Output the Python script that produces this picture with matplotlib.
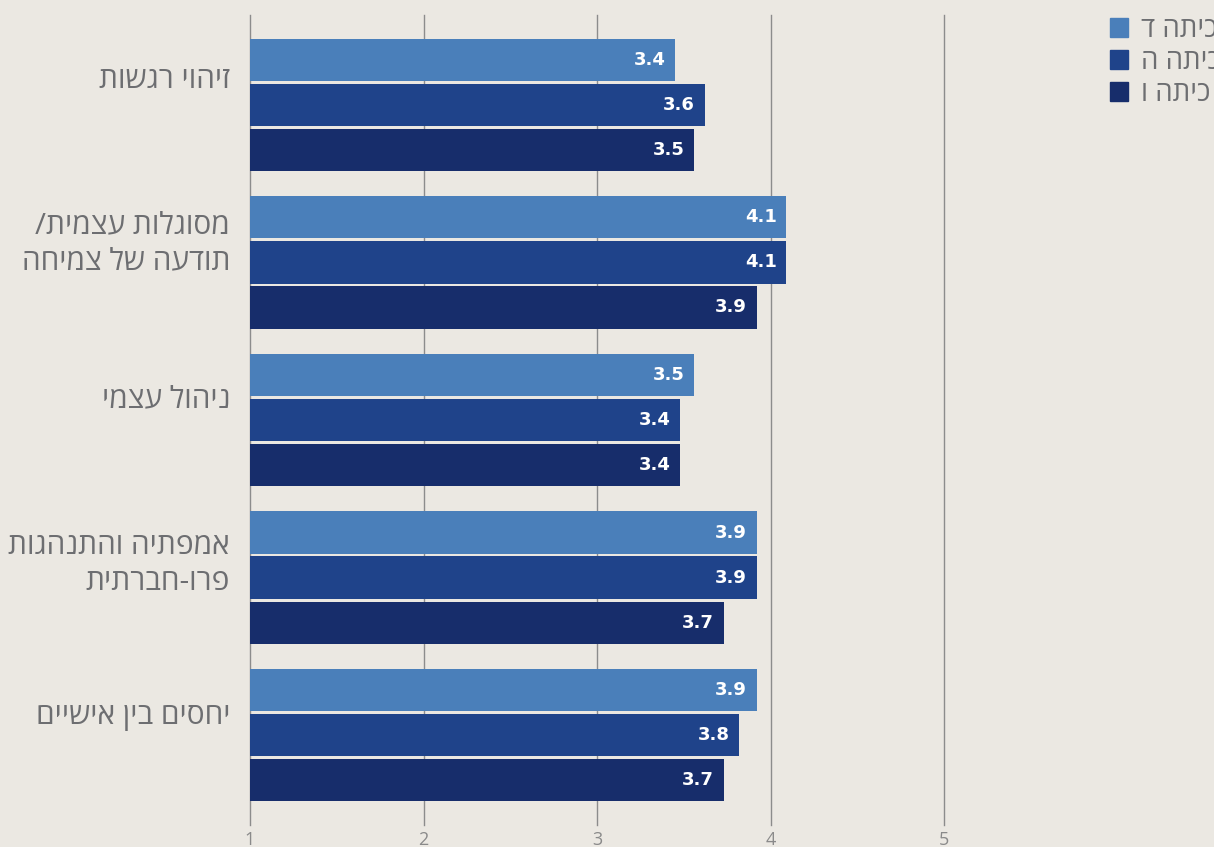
"""Horizontal grouped bars: social-emotional skills by grade."""
import matplotlib.pyplot as plt
from matplotlib.patches import Patch

# data (Hebrew kept in logical order, reversed only when drawn)
categories = [
    "זיהוי רגשות",
    "מסוגלות עצמית/\nתודעה של צמיחה",
    "ניהול עצמי",
    "אמפתיה והתנהגות\nפרו-חברתית",
    "יחסים בין אישיים",
]
grades = ["כיתה ד", "כיתה ה", "כיתה ו"]
grade_d = [3.45, 4.09, 3.56, 3.92, 3.92]
grade_h = [3.62, 4.09, 3.48, 3.92, 3.82]
grade_v = [3.56, 3.92, 3.48, 3.73, 3.73]
labels_d = ["3.4", "4.1", "3.5", "3.9", "3.9"]
labels_h = ["3.6", "4.1", "3.4", "3.9", "3.8"]
labels_v = ["3.5", "3.9", "3.4", "3.7", "3.7"]
xticks = [1, 2, 3, 4, 5]

COLORS = ["#4a7fba", "#1f438a", "#172d6b"]
BG = "#ebe8e2"
FONT = ["Open Sans", "DejaVu Sans"]
# labels sit a little above the middle bar in the original (pixels)
LABEL_NUDGE = [-24, -19, -20, -13, -19]
PX_PER_ROW = 157.5


def rtl(s):
    """matplotlib has no bidi, flip each line by hand."""
    return "\n".join(line[::-1] for line in s.split("\n"))


def main():
    plt.rcParams['font.family'] = FONT
    fig = plt.figure(figsize=(12.14, 8.47), dpi=100, facecolor=BG)
    W, H = 1214, 847
    ax = fig.add_axes([250 / W, 1 - 825 / H, (944 - 250) / W, (825 - 15) / H])
    ax.set_facecolor(BG)

    series = [(grade_d, labels_d), (grade_h, labels_h), (grade_v, labels_v)]
    offs = [-0.2857, 0, 0.2857]
    for (vals, labs), off, col in zip(series, offs, COLORS):
        ys = [i + off for i in range(len(vals))]
        ax.barh(ys, [v - 1 for v in vals], left=1, height=0.267,
                color=col, zorder=2)
        for y, v, lab in zip(ys, vals, labs):
            ax.text(v - 0.055, y, lab, ha='right', va='center', color='white',
                    fontsize=13, fontweight='bold', family='DejaVu Sans',
                    zorder=3)

    ax.set_xlim(1, 5)
    ax.set_ylim(4.571, -0.571)
    ax.set_xticks(xticks)
    ax.set_xticklabels([str(t) for t in xticks], color="#8a8a8a", fontsize=13)
    ax.tick_params(axis='x', length=0, pad=4)
    ax.set_yticks([])
    ax.grid(True, axis='x', color="#8c8c8c", lw=1, clip_on=False)
    ax.set_axisbelow(True)
    for s in ax.spines.values():
        s.set_visible(False)

    for i, cat in enumerate(categories):
        ax.text(1 - 20 / 173.5, i + LABEL_NUDGE[i] / PX_PER_ROW, rtl(cat),
                ha='right', va='center', color="#6d6e71", fontsize=21.5,
                linespacing=1.31)

    handles = [Patch(color=c) for c in COLORS]
    fig.legend(handles, [rtl(g) for g in grades], loc='upper left',
               bbox_to_anchor=(1085 / W, 1 + 9 / H), frameon=False,
               fontsize=20, handlelength=0.65, handleheight=0.65,
               handletextpad=0.45, labelspacing=0.15, labelcolor="#6d6e71")

    fig.savefig('out.png', facecolor=BG)


if __name__ == '__main__':
    main()
